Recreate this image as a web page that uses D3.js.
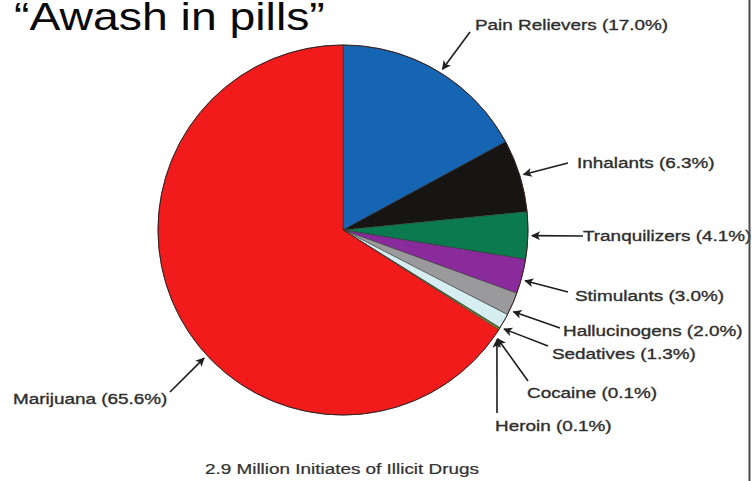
<!DOCTYPE html>
<html>
<head>
<meta charset="utf-8">
<script src="https://cdn.jsdelivr.net/npm/d3@7"></script>
<style>
  html, body { margin: 0; padding: 0; background: #fff; }
  svg { display: block; }
  text { font-family: "Liberation Sans", Arial, Helvetica, sans-serif; }
</style>
</head>
<body>
<svg id="chart" width="752" height="481"></svg>
<script>
// Share of past-year initiates by first drug used (percent), clockwise from 12 o'clock
const drugs   = ["Pain Relievers", "Inhalants", "Tranquilizers", "Stimulants", "Hallucinogens",
                 "Sedatives", "Cocaine", "Heroin", "Marijuana"];
const shares  = [17.0, 6.3, 4.1, 3.0, 2.0, 1.3, 0.1, 0.1, 65.6];
const colours = ["#1565b3", "#171414", "#0b7a4f", "#8a2b9c", "#9a9a9c",
                 "#d6eef2", "#3a9a3a", "#d2be22", "#f21b1b"];

const title    = "\u201CAwash in pills\u201D";
const subtitle = "2.9 Million Initiates of Illicit Drugs";

// Callout placement: label baseline start, arrow tail, and a small angular nudge (deg) for the arrow tip
const callouts = [
  { lx: 475, ly: 29.5, tx: 470, ty: 32,  nudge: 1 },
  { lx: 577, ly: 168,  tx: 568, ty: 163, nudge: 0 },
  { lx: 583, ly: 241,  tx: 583, ty: 236, nudge: 0 },
  { lx: 575, ly: 301,  tx: 568, ty: 292, nudge: 1 },
  { lx: 563, ly: 336,  tx: 560, ty: 328, nudge: 2 },
  { lx: 552, ly: 358.5,tx: 548, ty: 346, nudge: 2 },
  { lx: 527, ly: 398,  tx: 528, ty: 381, nudge: 3 },
  { lx: 495, ly: 431,  tx: 497, ty: 413, nudge: 3 },
  { lx: 13,  ly: 404,  tx: 170, ty: 392, nudge: -14 }
];

const svg = d3.select("#chart");
const cx = 343, cy = 230, radius = 185;
const stretch = 1.22;   // the lettering is set wide

const pie = d3.pie().sort(null).value(d => d)(shares);
const arc = d3.arc().innerRadius(0).outerRadius(radius);
const colour = d3.scaleOrdinal().domain(drugs).range(colours);

// Slices
const g = svg.append("g").attr("transform", `translate(${cx},${cy})`);
g.selectAll("path")
  .data(pie)
  .join("path")
  .attr("d", arc)
  .attr("fill", (d, i) => colour(drugs[i]))
  .attr("stroke", "#2a2a2a")
  .attr("stroke-width", 0.5);

// Outer rim
g.append("circle").attr("r", radius).attr("fill", "none")
  .attr("stroke", "#3a2020").attr("stroke-width", 1);

// Arrowhead marker
svg.append("defs").append("marker")
  .attr("id", "head")
  .attr("viewBox", "0 0 10 10")
  .attr("refX", 9).attr("refY", 5)
  .attr("markerUnits", "userSpaceOnUse")
  .attr("markerWidth", 11).attr("markerHeight", 9)
  .attr("orient", "auto")
  .append("path")
  .attr("d", "M0,0 L10,5 L0,10 L2.5,5 Z")
  .attr("fill", "#1e1e1e");

// Callout arrows point at each slice just outside the rim
const tips = pie.map((d, i) => {
  const a = (d.startAngle + d.endAngle) / 2 + callouts[i].nudge * Math.PI / 180;
  const r = radius + 4;
  return [cx + r * Math.sin(a), cy - r * Math.cos(a)];
});

svg.append("g").selectAll("line")
  .data(callouts)
  .join("line")
  .attr("x1", d => d.tx).attr("y1", d => d.ty)
  .attr("x2", (d, i) => tips[i][0]).attr("y2", (d, i) => tips[i][1])
  .attr("stroke", "#1e1e1e")
  .attr("stroke-width", 1.6)
  .attr("marker-end", "url(#head)");

// Labels
svg.append("g").selectAll("text")
  .data(callouts)
  .join("text")
  .attr("transform", d => `translate(${d.lx},${d.ly}) scale(${stretch},1)`)
  .attr("font-size", 15.5)
  .attr("fill", "#2e2e2e")
  .attr("stroke", "#2e2e2e")
  .attr("stroke-width", 0.35)
  .text((d, i) => `${drugs[i]} (${shares[i].toFixed(1)}%)`);

// Title and subtitle
svg.append("text")
  .attr("transform", `translate(14,30) scale(${stretch},1)`)
  .attr("font-size", 38)
  .attr("fill", "#0a0a0a")
  .text(title);

svg.append("text")
  .attr("transform", `translate(205,474) scale(${stretch},1)`)
  .attr("font-size", 15.5)
  .attr("fill", "#333")
  .attr("stroke", "#333")
  .attr("stroke-width", 0.25)
  .text(subtitle);

// Frame edge on the right
svg.append("line")
  .attr("x1", 749.5).attr("x2", 749.5).attr("y1", 0).attr("y2", 481)
  .attr("stroke", "#4a4a4a").attr("stroke-width", 2);
</script>
</body>
</html>
